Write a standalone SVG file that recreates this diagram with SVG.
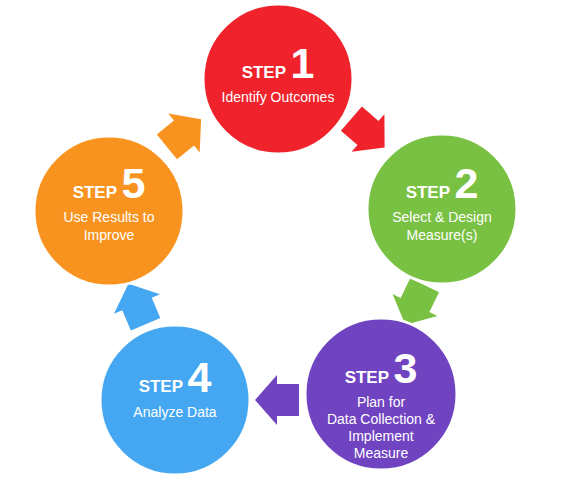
<svg xmlns="http://www.w3.org/2000/svg" width="570" height="495" viewBox="0 0 570 495">
<defs>
<style>
.c{stroke:#fff;stroke-width:3}
.t{font-family:"Liberation Sans",Arial,sans-serif;fill:#fff;text-anchor:middle}
.s{font-size:17px;font-weight:bold}
.n{font-size:43px;font-weight:bold}
.d{font-size:14px}
</style>
<path id="arr" d="M-22,-16 L0,-16 L0,-25 L22,0 L0,25 L0,16 L-22,16 Z"/>
</defs>
<rect width="570" height="495" fill="#fff"/>
<g id="connectors">
<use href="#arr" fill="#f0222b" transform="translate(368,133) rotate(41)"/>
<use href="#arr" fill="#79c142" transform="translate(415,305) rotate(116)"/>
<use href="#arr" fill="#7043c1" transform="translate(277,400) rotate(180)"/>
<use href="#arr" fill="#45a7f2" transform="translate(137,304) rotate(-113)"/>
<use href="#arr" fill="#f99320" transform="translate(184,133) rotate(-39)"/>
</g>
<g id="step1">
<circle class="c" cx="278" cy="79" r="75" fill="#f0222b"/>
<text class="t s" x="278" y="78">STEP <tspan class="n">1</tspan></text>
<text class="t d" x="278" y="102">Identify Outcomes</text>
</g>
<g id="step2">
<circle class="c" cx="442" cy="209" r="75" fill="#79c142"/>
<text class="t s" x="442" y="198">STEP <tspan class="n">2</tspan></text>
<text class="t d" x="442" y="222">Select &amp; Design</text>
<text class="t d" x="442" y="240">Measure(s)</text>
</g>
<g id="step3">
<circle class="c" cx="381" cy="394" r="76" fill="#7043c1"/>
<text class="t s" x="381" y="383">STEP <tspan class="n">3</tspan></text>
<text class="t d" x="381" y="407">Plan for</text>
<text class="t d" x="381" y="424">Data Collection &amp;</text>
<text class="t d" x="381" y="441">Implement</text>
<text class="t d" x="381" y="458">Measure</text>
</g>
<g id="step4">
<circle class="c" cx="175" cy="400" r="75" fill="#45a7f2"/>
<text class="t s" x="175" y="392">STEP <tspan class="n">4</tspan></text>
<text class="t d" x="175" y="417">Analyze Data</text>
</g>
<g id="step5">
<circle class="c" cx="109" cy="211" r="75" fill="#f99320"/>
<text class="t s" x="109" y="198">STEP <tspan class="n">5</tspan></text>
<text class="t d" x="109" y="222">Use Results to</text>
<text class="t d" x="109" y="240">Improve</text>
</g>
</svg>
